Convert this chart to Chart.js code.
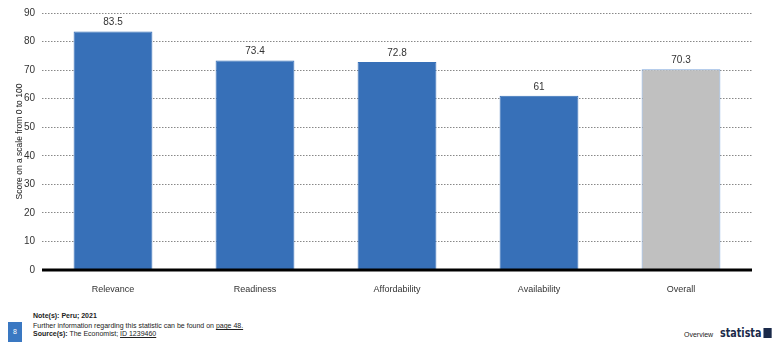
<!DOCTYPE html>
<html>
<head>
<meta charset="utf-8">
<script src="https://cdn.jsdelivr.net/npm/chart.js@4"></script>
<style>
  body { margin: 0; background: #fff; font-family: "Liberation Sans", Arial, sans-serif; }
  #wrap { position: relative; width: 773px; height: 345px; overflow: hidden; }
  #chartBox { position: absolute; left: 0; top: 0; width: 773px; height: 300px; }
  .foot { position: absolute; font-size: 7px; color: #222; line-height: 9px; white-space: nowrap; }
  .page { position: absolute; left: 8px; top: 322px; width: 14px; height: 20px; background: #3a78c2; color: #fff; font-size: 7px; text-align: center; line-height: 20px; }
  .logo { position: absolute; left: 720px; top: 325px; font-size: 13px; font-weight: bold; color: #1a2a4a; font-family: "DejaVu Sans Condensed", sans-serif; transform: scaleX(0.82); transform-origin: left top; white-space: nowrap; }
  .logo span { display: inline-block; width: 10px; height: 10px; background: #1a2a4a; margin-left: 2px; vertical-align: -1px; }
</style>
</head>
<body>
<div id="wrap">
  <div id="chartBox"><canvas id="scoreChart"></canvas></div>
  <div class="foot" style="left:33px; top:311px; font-weight:bold;">Note(s): Peru; 2021</div>
  <div class="foot" style="left:33px; top:321px;">Further information regarding this statistic can be found on <u>page 48.</u></div>
  <div class="foot" style="left:33px; top:329px;"><b>Source(s):</b> The Economist; <u>ID 1239460</u></div>
  <div class="page">8</div>
  <div class="foot" style="left:684px; top:330px;">Overview</div>
  <div class="logo">statista<span></span></div>
</div>
<script>
const categories = ['Relevance', 'Readiness', 'Affordability', 'Availability', 'Overall'];
const scores = [83.5, 73.4, 72.8, 61, 70.3];
const yTicks = [0, 10, 20, 30, 40, 50, 60, 70, 80, 90];

const blue = '#3770b8';
const fillColors = categories.map(c => c === 'Overall' ? '#c0c0c0' : blue);
const borderColors = categories.map(c => c === 'Overall' ? '#7ea6dc' : blue);

// value labels above each bar
const valueLabels = {
    id: 'valueLabels',
    afterDatasetsDraw(chart) {
        const ctx = chart.ctx;
        const meta = chart.getDatasetMeta(0);
        ctx.save();
        ctx.font = '10px "Liberation Sans", Arial, sans-serif';
        ctx.fillStyle = '#333';
        ctx.textAlign = 'center';
        ctx.textBaseline = 'bottom';
        meta.data.forEach((bar, i) => {
            ctx.fillText(String(scores[i]), bar.x, bar.y - 4);
        });
        ctx.restore();
    }
};

// thick baseline at zero
const baseline = {
    id: 'baseline',
    afterDatasetsDraw(chart) {
        const ctx = chart.ctx;
        const y = chart.scales.y.getPixelForValue(0);
        ctx.save();
        ctx.strokeStyle = '#000';
        ctx.lineWidth = 3;
        ctx.beginPath();
        ctx.moveTo(chart.chartArea.left, y);
        ctx.lineTo(chart.chartArea.right, y);
        ctx.stroke();
        ctx.restore();
    }
};

new Chart(document.getElementById('scoreChart'), {
    type: 'bar',
    data: {
        labels: categories,
        datasets: [{
            data: scores,
            backgroundColor: fillColors,
            borderColor: borderColors,
            borderWidth: 1,
            categoryPercentage: 1,
            barPercentage: 0.555
        }]
    },
    options: {
        responsive: true,
        maintainAspectRatio: false,
        animation: false,
        layout: { padding: { top: 7, right: 21, left: 0, bottom: 0 } },
        plugins: {
            legend: { display: false },
            tooltip: { enabled: false }
        },
        scales: {
            x: {
                grid: { display: false },
                border: { display: false },
                ticks: {
                    color: '#333',
                    font: { size: 9, family: '"Liberation Sans", Arial, sans-serif' },
                    padding: 6
                },
                afterFit(scale) { scale.height = 30; }
            },
            y: {
                min: 0,
                max: 90,
                afterBuildTicks(scale) { scale.ticks = yTicks.map(v => ({ value: v })); },
                grid: {
                    color: '#888',
                    lineWidth: 1,
                    drawTicks: false
                },
                border: { display: false, dash: [1.5, 1.5] },
                ticks: {
                    color: '#333',
                    font: { size: 10, family: '"Liberation Sans", Arial, sans-serif' },
                    padding: 7
                },
                title: {
                    display: true,
                    text: 'Score on a scale from 0 to 100',
                    color: '#222',
                    font: { size: 8.5, family: '"Liberation Sans", Arial, sans-serif' },
                    padding: { top: 15, bottom: 0 }
                },
                afterFit(scale) { scale.width = 42; }
            }
        }
    },
    plugins: [valueLabels, baseline]
});
</script>
</body>
</html>
